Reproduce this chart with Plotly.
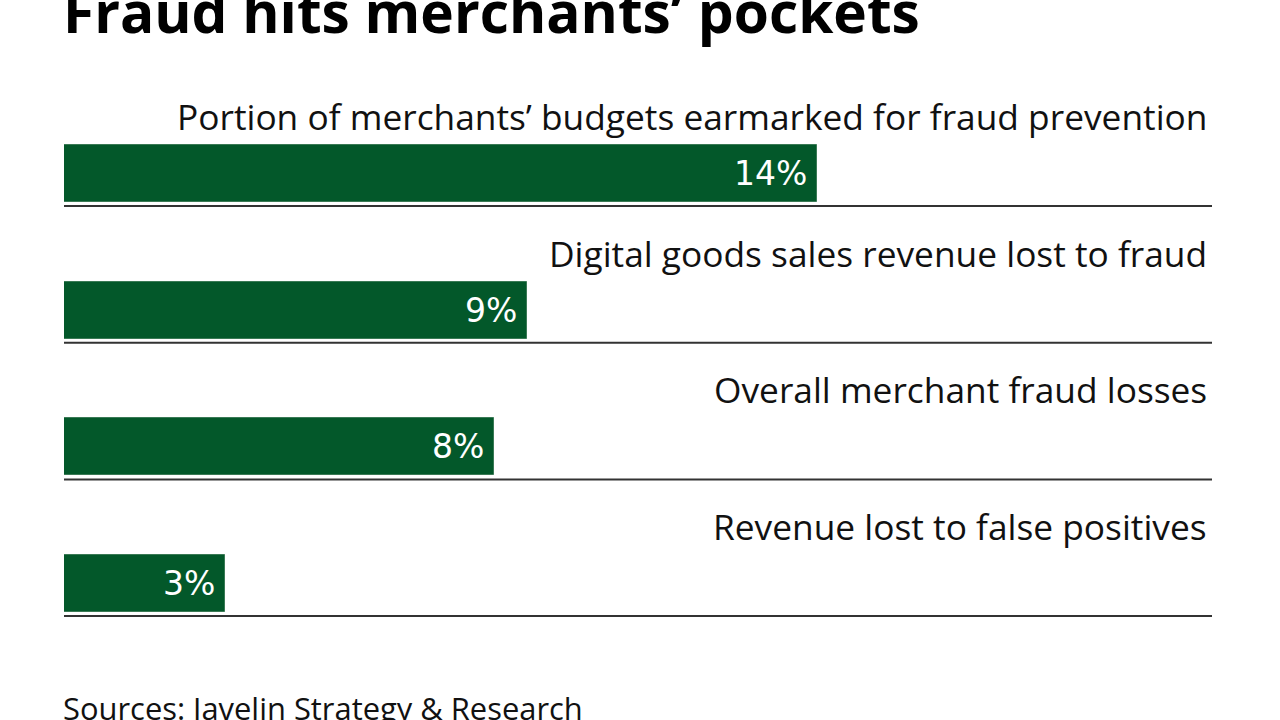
import plotly.graph_objects as go

categories = [
    "Portion of merchants’ budgets earmarked for fraud prevention",
    "Digital goods sales revenue lost to fraud",
    "Overall merchant fraud losses",
    "Revenue lost to false positives",
]
values = [14, 8.6, 8, 3]
value_labels = ["14%", "9%", "8%", "3%"]
title_text = "Fraud hits merchants’ pockets"
source_text = "Sources: Javelin Strategy & Research"

GREEN = "#03582a"
LABEL_FONT = "Open Sans"
positions = list(range(len(categories)))

fig = go.Figure()
fig.add_trace(go.Bar(
    x=values,
    y=positions,
    orientation="h",
    width=0.417,
    marker=dict(color=GREEN, line=dict(color="#3a7a55", width=1)),
    hoverinfo="skip",
))

annotations = []
shapes = []
for i, cat in enumerate(categories):
    annotations.append(dict(
        x=1, xref="paper", xanchor="right", xshift=-3,
        y=i - 0.42, yref="y", yanchor="middle",
        text=cat, showarrow=False,
        font=dict(size=35.3, family=LABEL_FONT, color="#111111"),
    ))
    annotations.append(dict(
        x=values[i], xref="x", xanchor="right", xshift=-8,
        y=i, yref="y", yanchor="middle",
        text=value_labels[i], showarrow=False,
        font=dict(size=33, family="DejaVu Sans", color="white"),
    ))
    shapes.append(dict(
        type="line", xref="paper", x0=0, x1=1,
        yref="y", y0=i + 0.238, y1=i + 0.238,
        line=dict(color="#333333", width=2),
    ))

annotations.append(dict(
    x=0, xref="paper", xanchor="left", xshift=-3,
    y=1, yref="paper", yanchor="middle", yshift=-11,
    text="<b>" + title_text + "</b>", showarrow=False,
    font=dict(size=56.8, family=LABEL_FONT, color="#000000"),
))
annotations.append(dict(
    x=0, xref="paper", xanchor="left", xshift=-3,
    y=0, yref="paper", yanchor="middle", yshift=12,
    text=source_text, showarrow=False,
    font=dict(size=30.9, family=LABEL_FONT, color="#111111"),
))

fig.update_layout(
    width=1280, height=720,
    margin=dict(l=64, r=68, t=0, b=0),
    paper_bgcolor="white", plot_bgcolor="white",
    showlegend=False,
    xaxis=dict(range=[0, 21.34], visible=False, fixedrange=True),
    yaxis=dict(range=[3.998, -1.269], visible=False, fixedrange=True),
    annotations=annotations,
    shapes=shapes,
    bargap=0,
)

fig.write_html("out.html", config={"displayModeBar": False})
